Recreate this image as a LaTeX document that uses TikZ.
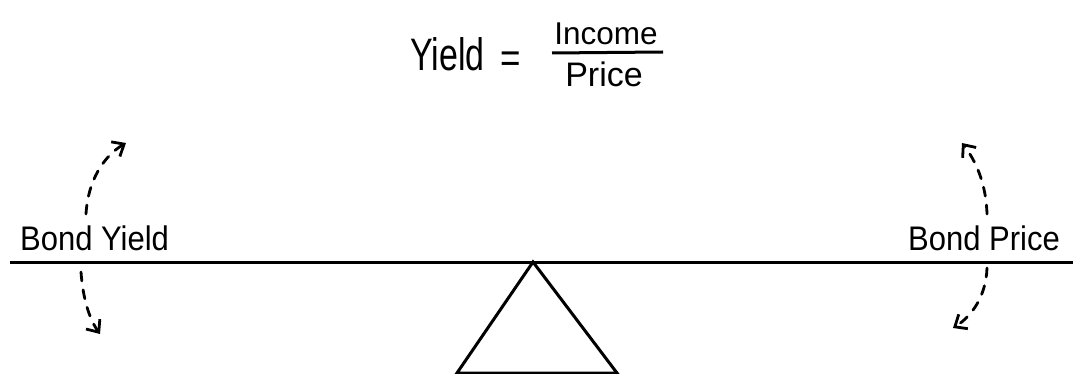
\documentclass[tikz,border=0pt]{standalone}
\usepackage{fontspec}
\setmainfont{Liberation Sans}
\usetikzlibrary{arrows.meta}
\begin{document}
\begin{tikzpicture}[x=1pt,y=-1pt,
  ink/.style={line width=3pt, black},
  swing/.style={line width=2.8pt, dash pattern=on 9pt off 9pt, line cap=round, -{Straight Barb[length=10pt,width=17pt,line width=2.8pt]}},
  label/.style={inner sep=0pt, font=\fontsize{31}{34}\selectfont, yscale=1.1},
  formula/.style={inner sep=0pt, font=\fontsize{35}{38}\selectfont}]
\useasboundingbox (0,0) rectangle (1073,374);
% formula
\node[formula, anchor=base west, yscale=1.3, xscale=0.97] (yield) at (410,71) {Yield};
\node[formula, anchor=center, yscale=1.2] (eq) at (511,62) {=};
\node[inner sep=0pt, font=\fontsize{31.5}{34}\selectfont, anchor=base] (inc) at (606,45) {Income};
\node[inner sep=0pt, font=\fontsize{34}{36}\selectfont, anchor=base] (pri) at (604,87) {Price};
\coordinate (barL) at (552,53);
\coordinate (barR) at (663,52);
\draw[ink] (barL) -- (barR);
% beam and fulcrum
\coordinate (beamL) at (10,262);
\coordinate (beamR) at (1073,262);
\draw[ink] (beamL) -- (beamR);
\coordinate (apex) at (533,262);
\coordinate (baseL) at (457,373);
\coordinate (baseR) at (617,373);
\draw[ink, line join=miter] (baseL) -- (apex) -- (baseR) -- cycle;
% labels
\node[label, anchor=base west] (by) at (20,250) {Bond Yield};
\node[label, anchor=base east] (bp) at (1060,250) {Bond Price};
% arrows
\coordinate (l1) at (86,214);
\coordinate (l1t) at (126,143);
\draw[swing] (l1) .. controls (88,180) and (104,156) .. (l1t);
\coordinate (l2) at (81,272);
\coordinate (l2t) at (100,334);
\draw[swing] (l2) .. controls (83,300) and (90,320) .. (l2t);
\coordinate (r1) at (987,214);
\coordinate (r1t) at (962,143);
\draw[swing] (r1) .. controls (986,182) and (975,160) .. (r1t);
\coordinate (r2) at (987,268);
\coordinate (r2t) at (953,328);
\draw[swing] (r2) .. controls (986,296) and (972,316) .. (r2t);
\end{tikzpicture}
\end{document}
